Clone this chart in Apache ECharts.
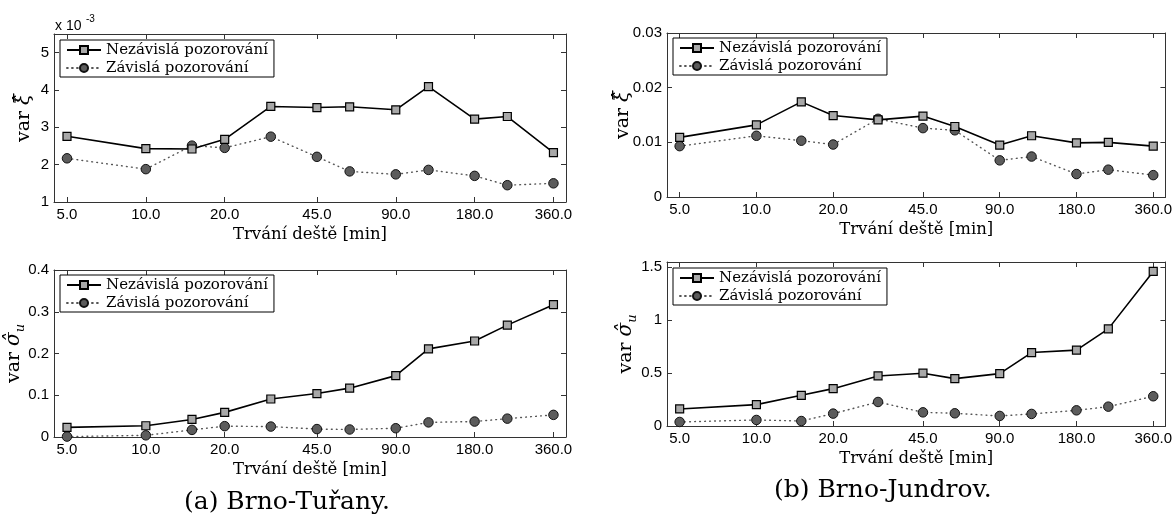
<!DOCTYPE html>
<html><head><meta charset="utf-8">
<script src="https://cdn.jsdelivr.net/npm/echarts@6/dist/echarts.min.js"></script>
<style>html,body{margin:0;padding:0;background:#fff}#c{width:1175px;height:519px}</style>
</head><body><div id="c"></div>
<script>
// ---- data ----
const durations = [5, 10, 15, 20, 30, 45, 60, 90, 120, 180, 240, 360];
const xTickDurations = [5, 10, 20, 45, 90, 180, 360];
const seriesNames = ['Nezávislá pozorování', 'Závislá pozorování'];
// (a) Brno-Tuřany  (var xi shown in units of 10^-3)
const turanyXiIndep = [2.76, 2.43, 2.42, 2.68, 3.56, 3.53, 3.55, 3.47, 4.09, 3.22, 3.29, 2.32];
const turanyXiDep = [2.17, 1.88, 2.51, 2.45, 2.75, 2.21, 1.82, 1.74, 1.86, 1.70, 1.45, 1.50];
const turanySigmaIndep = [0.023, 0.027, 0.042, 0.059, 0.091, 0.104, 0.117, 0.147, 0.211, 0.230, 0.268, 0.317];
const turanySigmaDep = [0.001, 0.004, 0.017, 0.026, 0.025, 0.019, 0.018, 0.021, 0.035, 0.037, 0.044, 0.053];
// (b) Brno-Jundrov
const jundrovXiIndep = [0.0109, 0.0132, 0.0174, 0.0149, 0.0141, 0.0148, 0.0129, 0.0095, 0.0112, 0.0099, 0.0100, 0.0093];
const jundrovXiDep = [0.0093, 0.0112, 0.0103, 0.0096, 0.0143, 0.0126, 0.0122, 0.0067, 0.0074, 0.0042, 0.0050, 0.0040];
const jundrovSigmaIndep = [0.161, 0.202, 0.290, 0.353, 0.473, 0.499, 0.448, 0.495, 0.694, 0.717, 0.918, 1.461];
const jundrovSigmaDep = [0.038, 0.057, 0.047, 0.117, 0.227, 0.129, 0.120, 0.095, 0.114, 0.148, 0.183, 0.281];
const yTicksTuranyXi = [1, 2, 3, 4, 5];
const yTicksTuranySigma = [0, 0.1, 0.2, 0.3, 0.4];
const yTicksJundrovXi = [0, 0.01, 0.02, 0.03];
const yTicksJundrovSigma = [0, 0.5, 1, 1.5];
const xAxisTitle = 'Trvání deště [min]';
const captions = ['(a) Brno-Tuřany.', '(b) Brno-Jundrov.'];
const xiName = '{v|var }{g|ξ̂}';
const sigmaName = '{v|var }{g|σ̂}{s|u}';

// ---- layout / style ----
const SERIF = '"DejaVu Serif", "Liberation Serif", serif';
const SANS = '"Liberation Sans", Arial, sans-serif';
const AX = '#333';
const xMin = Math.log(4.46), xMax = Math.log(402);

const panels = [
  { grid: { left: 54, top: 34, width: 512, height: 168 }, yMin: 1, yMax: 5.5, yTicks: yTicksTuranyXi, yName: xiName, yGap: 17, indep: turanyXiIndep, dep: turanyXiDep, legend: { left: 60, top: 40 } },
  { grid: { left: 54, top: 270, width: 512, height: 167 }, yMin: 0, yMax: 0.4, yTicks: yTicksTuranySigma, yName: sigmaName, yGap: 27, indep: turanySigmaIndep, dep: turanySigmaDep, legend: { left: 60, top: 275 } },
  { grid: { left: 667, top: 33, width: 499, height: 164 }, yMin: 0, yMax: 0.03, yTicks: yTicksJundrovXi, yName: xiName, yGap: 31, indep: jundrovXiIndep, dep: jundrovXiDep, legend: { left: 673, top: 38 } },
  { grid: { left: 667, top: 262, width: 499, height: 164 }, yMin: 0, yMax: 1.55, yTicks: yTicksJundrovSigma, yName: sigmaName, yGap: 28, indep: jundrovSigmaIndep, dep: jundrovSigmaDep, legend: { left: 673, top: 268 } }
];

const xTickVals = xTickDurations.map(d => Math.log(d));
const grids = [], xAxes = [], yAxes = [], series = [], legends = [];
const nameRich = {
  v: { fontFamily: SERIF, fontSize: 19, color: '#000', lineHeight: 26 },
  g: { fontFamily: SERIF, fontSize: 20, fontStyle: 'italic', color: '#000', lineHeight: 26 },
  s: { fontFamily: SERIF, fontSize: 13, fontStyle: 'italic', color: '#000', lineHeight: 10, verticalAlign: 'bottom' }
};

panels.forEach((p, i) => {
  grids.push(Object.assign({ show: false }, p.grid));
  const axLine = { show: true, onZero: false, lineStyle: { color: AX, width: 1 } };
  const tick = { show: true, inside: true, length: 5, lineStyle: { color: AX, width: 1 }, customValues: xTickVals };
  xAxes.push({
    type: 'value', gridIndex: i, position: 'bottom', min: xMin, max: xMax,
    axisLine: axLine, axisTick: tick, splitLine: { show: false },
    axisLabel: { show: true, customValues: xTickVals, margin: 5, color: '#000', fontFamily: SANS, fontSize: 15,
      formatter: v => Math.exp(v).toFixed(1) },
    name: xAxisTitle, nameLocation: 'middle', nameGap: 24,
    nameTextStyle: { fontFamily: SERIF, fontSize: 16.5, color: '#000' }
  });
  xAxes.push({
    type: 'value', gridIndex: i, position: 'top', min: xMin, max: xMax,
    axisLine: axLine, axisTick: tick, axisLabel: { show: false }, splitLine: { show: false }
  });
  const ytick = { show: true, inside: true, length: 5, lineStyle: { color: AX, width: 1 }, customValues: p.yTicks };
  yAxes.push({
    type: 'value', gridIndex: i, position: 'left', min: p.yMin, max: p.yMax,
    axisLine: axLine, axisTick: ytick, splitLine: { show: false },
    axisLabel: { show: true, customValues: p.yTicks, margin: 5, color: '#000', fontFamily: SANS, fontSize: 15 },
    name: p.yName, nameLocation: 'middle', nameGap: p.yGap, nameRotate: 90, nameMoveOverlap: false,
    nameTextStyle: { rich: nameRich }
  });
  yAxes.push({
    type: 'value', gridIndex: i, position: 'right', min: p.yMin, max: p.yMax,
    axisLine: axLine, axisTick: ytick, axisLabel: { show: false }, splitLine: { show: false }
  });
  series.push({
    type: 'line', name: seriesNames[0], xAxisIndex: 2 * i, yAxisIndex: 2 * i,
    data: durations.map((d, k) => [Math.log(d), p.indep[k]]),
    symbol: 'rect', symbolSize: 8, showAllSymbol: true, silent: true,
    lineStyle: { color: '#000', width: 1.6 },
    itemStyle: { color: '#a8a8a8', borderColor: '#000', borderWidth: 1.2 },
    z: 3
  });
  series.push({
    type: 'line', name: seriesNames[1], xAxisIndex: 2 * i, yAxisIndex: 2 * i,
    data: durations.map((d, k) => [Math.log(d), p.dep[k]]),
    symbol: 'circle', symbolSize: 9.5, showAllSymbol: true, silent: true,
    lineStyle: { color: '#555', width: 1.4, type: [0.8, 4.2], cap: 'round' },
    itemStyle: { color: '#5c5c5c', borderColor: '#111', borderWidth: 1 },
    z: 2
  });
  legends.push({
    show: true, orient: 'vertical', left: p.legend.left, top: p.legend.top,
    data: seriesNames, selectedMode: false,
    backgroundColor: '#fff', borderColor: '#000', borderWidth: 1, borderRadius: 0,
    padding: [2, 6, 1, 6], itemGap: 2, itemWidth: 34, itemHeight: 10,
    textStyle: { fontFamily: SERIF, fontSize: 15, color: '#000', lineHeight: 16 }
  });
});

const option = {
  animation: false,
  backgroundColor: '#fff',
  grid: grids, xAxis: xAxes, yAxis: yAxes, series: series, legend: legends,
  graphic: [
    { type: 'text', left: 55, top: 19, style: { text: 'x 10', font: '14px "Liberation Sans", Arial, sans-serif', fill: '#000' } },
    { type: 'text', left: 86, top: 14, style: { text: '-3', font: '10px "Liberation Sans", Arial, sans-serif', fill: '#000' } },
    { type: 'text', left: 184, top: 490, style: { text: captions[0], font: '25px "DejaVu Serif", serif', fill: '#000' } },
    { type: 'text', left: 774, top: 478, style: { text: captions[1], font: '25px "DejaVu Serif", serif', fill: '#000' } }
  ]
};
const chart = echarts.init(document.getElementById('c'), null, { renderer: 'canvas' });
chart.setOption(option);
</script></body></html>
